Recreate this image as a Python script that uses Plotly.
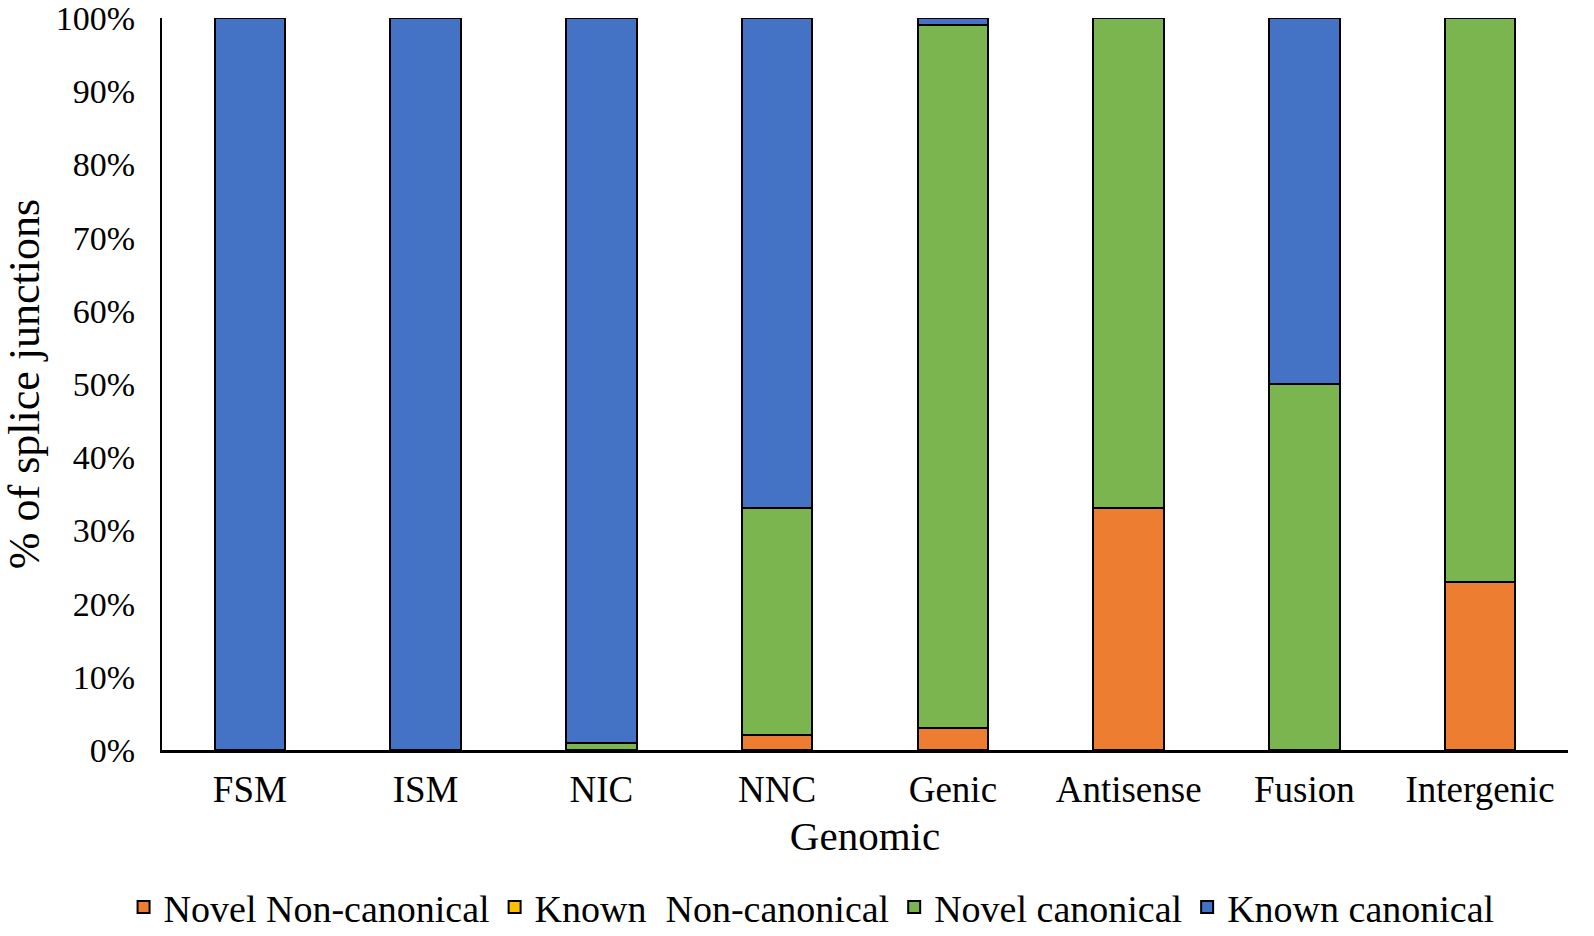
import plotly.graph_objects as go

categories = ["FSM", "ISM", "NIC", "NNC", "Genic", "Antisense", "Fusion", "Intergenic"]
novel_noncanonical = [0, 0, 0, 2, 3, 33, 0, 23]
known_noncanonical = [0, 0, 0, 0, 0, 0, 0, 0]
novel_canonical = [0, 0, 1, 31, 96, 67, 50, 77]
known_canonical = [100, 100, 99, 67, 1, 0, 50, 0]
y_ticks = [0, 10, 20, 30, 40, 50, 60, 70, 80, 90, 100]
y_tick_labels = [f"{v}%" for v in y_ticks]

series = [
    ("Novel Non-canonical", novel_noncanonical, "#ED7D31"),
    ("Known  Non-canonical", known_noncanonical, "#FFC000"),
    ("Novel canonical", novel_canonical, "#7AB550"),
    ("Known canonical", known_canonical, "#4472C4"),
]

font = "Liberation Serif"
fig = go.Figure()
for name, vals, col in series:
    fig.add_trace(go.Bar(
        x=categories, y=vals, name=name,
        marker=dict(color=col, line=dict(color="black", width=2)),
        width=0.4,
    ))

fig.update_layout(
    barmode="stack",
    width=1594, height=936,
    paper_bgcolor="white", plot_bgcolor="white",
    margin=dict(l=162, r=26, t=18, b=186, autoexpand=False),
    font=dict(family=font, size=32, color="black"),
    showlegend=True,
    legend=dict(orientation="h", x=0.462, xanchor="center", y=-0.215, yanchor="middle",
                font=dict(size=38, family=font), traceorder="normal",
                itemwidth=30, bgcolor="rgba(0,0,0,0)"),
    xaxis=dict(showline=True, linecolor="black", linewidth=3, ticks="", automargin=False,
               tickfont=dict(size=37), ticklabelstandoff=5,
               title=dict(text="Genomic", font=dict(size=41), standoff=12),
               showgrid=False),
    yaxis=dict(range=[0, 100], tickvals=y_ticks, ticktext=y_tick_labels, showline=True,
               automargin=False,
               linecolor="black", linewidth=2, ticks="", showgrid=False, zeroline=False,
               tickfont=dict(size=34), ticklabelstandoff=18, ticklabeloverflow="allow",
               title=dict(text="% of splice junctions", font=dict(size=44), standoff=24)),
)

fig.write_html("out.html", config={"displayModeBar": False},
               post_script="document.body.style.margin='0';")
